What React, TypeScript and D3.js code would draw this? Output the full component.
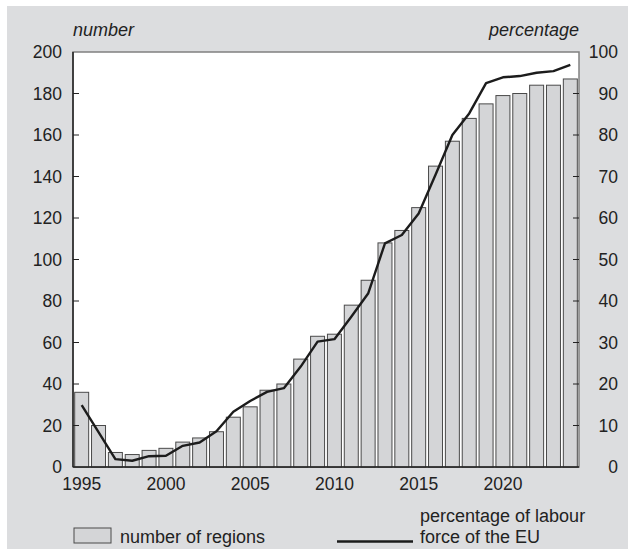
import * as d3 from 'd3'
import React from 'react'

const years = d3.range(1995, 2025)
const regions = [36, 20, 7, 6, 8, 9, 12, 14, 17, 24, 29, 37, 40, 52, 63, 64, 78, 90, 108, 114, 125, 145, 157, 168, 175, 179, 180, 184, 184, 187]
const labourShare = [14.9, 8.4, 1.9, 1.5, 2.6, 2.7, 5.1, 5.9, 8.6, 13.3, 15.9, 18.1, 19, 24.2, 30.2, 30.8, 36.2, 41.8, 53.9, 55.9, 61.1, 70.4, 80, 85.2, 92.5, 93.9, 94.2, 95, 95.4, 96.9]
const leftTicks = [0, 20, 40, 60, 80, 100, 120, 140, 160, 180, 200]
const rightTicks = [0, 10, 20, 30, 40, 50, 60, 70, 80, 90, 100]
const yearTicks = [1995, 2000, 2005, 2010, 2015, 2020]

const W = 628, H = 553
const m = { left: 73, right: 579, top: 52, bottom: 467 }
const font = 'Liberation Sans, Arial, sans-serif'

export default function App() {
  const
    x = d3.scaleBand<number>().domain(years).range([m.left, m.right]).paddingInner(0.17).paddingOuter(0.1),
    yL = d3.scaleLinear().domain([0, 200]).range([m.bottom, m.top]),
    yR = d3.scaleLinear().domain([0, 100]).range([m.bottom, m.top]),
    cx = (yr: number) => (x(yr) as number) + x.bandwidth() / 2,
    ln = d3.line<number>().x((_, i) => cx(years[i])).y(d => yR(d))

  return (
    <svg width={W} height={H} style={{ position: 'absolute', left: 0, top: 0 }} fontFamily={font}>
      <rect x={7} y={6} width={621} height={543} fill='#dcdddf' />
      <rect x={m.left} y={m.top} width={m.right - m.left} height={m.bottom - m.top} fill='#fff' stroke='#808080' strokeWidth={1.5} />

      {years.map((yr, i) => (
        <rect key={yr} x={x(yr)} y={yL(regions[i])} width={x.bandwidth()} height={m.bottom - yL(regions[i])}
          fill='#d4d5d7' stroke='#4a4a4a' strokeWidth={1} />
      ))}

      <path d={ln(labourShare) as string} fill='none' stroke='#1c1c1c' strokeWidth={2.4} strokeLinejoin='round' />

      <line x1={m.left} x2={m.left} y1={m.top} y2={m.bottom} stroke='#222' strokeWidth={1.5} />
      <line x1={m.left} x2={m.right} y1={m.bottom} y2={m.bottom} stroke='#222' strokeWidth={1.5} />

      {leftTicks.map(t => (
        <g key={t}>
          {t > 0 && t < 200 && <line x1={m.left} x2={m.left + 6} y1={yL(t)} y2={yL(t)} stroke='#222' />}
          <text x={62} y={yL(t) + 6} textAnchor='end' fontSize={17.5} fill='#222'>{t}</text>
        </g>
      ))}
      {rightTicks.map(t => (
        <g key={t}>
          {t > 0 && t < 100 && <line x1={m.right - 6} x2={m.right} y1={yR(t)} y2={yR(t)} stroke='#222' />}
          <text x={618} y={yR(t) + 6} textAnchor='end' fontSize={17.5} fill='#222'>{t}</text>
        </g>
      ))}
      {yearTicks.map(t => (
        <text key={t} x={cx(t)} y={490} textAnchor='middle' fontSize={17.5} fill='#222'>{t}</text>
      ))}

      <text x={73} y={36} fontSize={18} fontStyle='italic' fill='#222'>number</text>
      <text x={579} y={36} fontSize={18} fontStyle='italic' fill='#222' textAnchor='end'>percentage</text>

      <rect x={74} y={528} width={37} height={15} fill='#d4d5d7' stroke='#4a4a4a' />
      <text x={120} y={543} fontSize={18} fill='#222'>number of regions</text>
      <line x1={337} x2={413} y1={541.5} y2={541.5} stroke='#1c1c1c' strokeWidth={2.5} />
      <text x={420} y={522} fontSize={18} fill='#222'>percentage of labour</text>
      <text x={420} y={543} fontSize={18} fill='#222'>force of the EU</text>
    </svg>
  )
}
